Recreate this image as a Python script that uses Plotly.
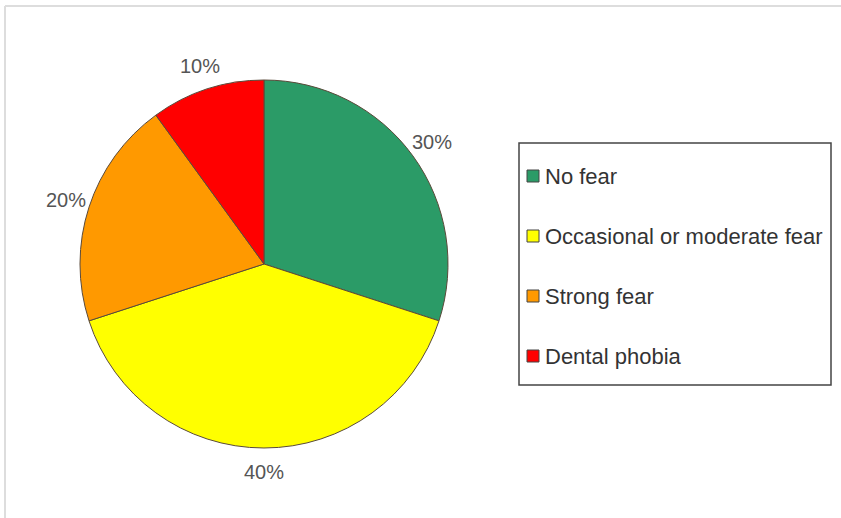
import math
import plotly.graph_objects as go

categories = ["No fear", "Occasional or moderate fear", "Strong fear", "Dental phobia"]
values = [30, 40, 20, 10]
colors = ["#2b9b67", "#ffff00", "#ff9900", "#ff0000"]

W, H = 841, 518
cx, cy, r = 264, 264, 184  # pie center / radius in pixels (from top-left)

fig = go.Figure()
fig.add_trace(go.Pie(
    labels=categories, values=values, sort=False, direction="clockwise", rotation=0,
    marker=dict(colors=colors, line=dict(color="#5a4a3a", width=1)),
    textinfo="none", showlegend=False,
    domain=dict(x=[(cx - r) / W, (cx + r) / W], y=[(H - cy - r) / H, (H - cy + r) / H]),
))

annotations = []
total = sum(values)
cum = 0
label_r = 208
for v in values:
    mid = (cum + v / 2) / total * 2 * math.pi
    cum += v
    px = cx + label_r * math.sin(mid)
    py = cy - label_r * math.cos(mid)
    annotations.append(dict(
        x=px / W, y=1 - py / H, xref="paper", yref="paper",
        text=f"{round(v / total * 100)}%", showarrow=False,
        font=dict(family="Liberation Sans, Arial", size=20, color="#555555"),
        xanchor="center", yanchor="middle"))

shapes = []
# legend box
lx0, ly0, lx1, ly1 = 519, 143, 831, 385
shapes.append(dict(type="rect", xref="paper", yref="paper",
                   x0=lx0 / W, x1=lx1 / W, y0=1 - ly0 / H, y1=1 - ly1 / H,
                   line=dict(color="#444444", width=1.5), fillcolor="rgba(0,0,0,0)"))
item_y0, item_dy = 176, 60
for i, (lab, col) in enumerate(zip(categories, colors)):
    yy = item_y0 + i * item_dy
    shapes.append(dict(type="rect", xref="paper", yref="paper",
                       x0=527 / W, x1=539 / W, y0=1 - (yy - 6) / H, y1=1 - (yy + 6) / H,
                       line=dict(color="#444444", width=1), fillcolor=col))
    annotations.append(dict(
        x=543 / W, y=1 - yy / H, xref="paper", yref="paper", text=lab, showarrow=False,
        font=dict(family="Liberation Sans, Arial", size=22, color="#333333"),
        xanchor="left", yanchor="middle"))

# outer frame lines (top and left)
shapes.append(dict(type="line", xref="paper", yref="paper", x0=5 / W, x1=1, y0=1 - 6 / H, y1=1 - 6 / H,
                   line=dict(color="#dddddd", width=2)))
shapes.append(dict(type="line", xref="paper", yref="paper", x0=5 / W, x1=5 / W, y0=0, y1=1 - 6 / H,
                   line=dict(color="#dddddd", width=2)))

fig.update_layout(
    width=W, height=H, margin=dict(l=0, r=0, t=0, b=0),
    paper_bgcolor="white", plot_bgcolor="white",
    annotations=annotations, shapes=shapes, showlegend=False,
)
fig.write_html("out.html")
